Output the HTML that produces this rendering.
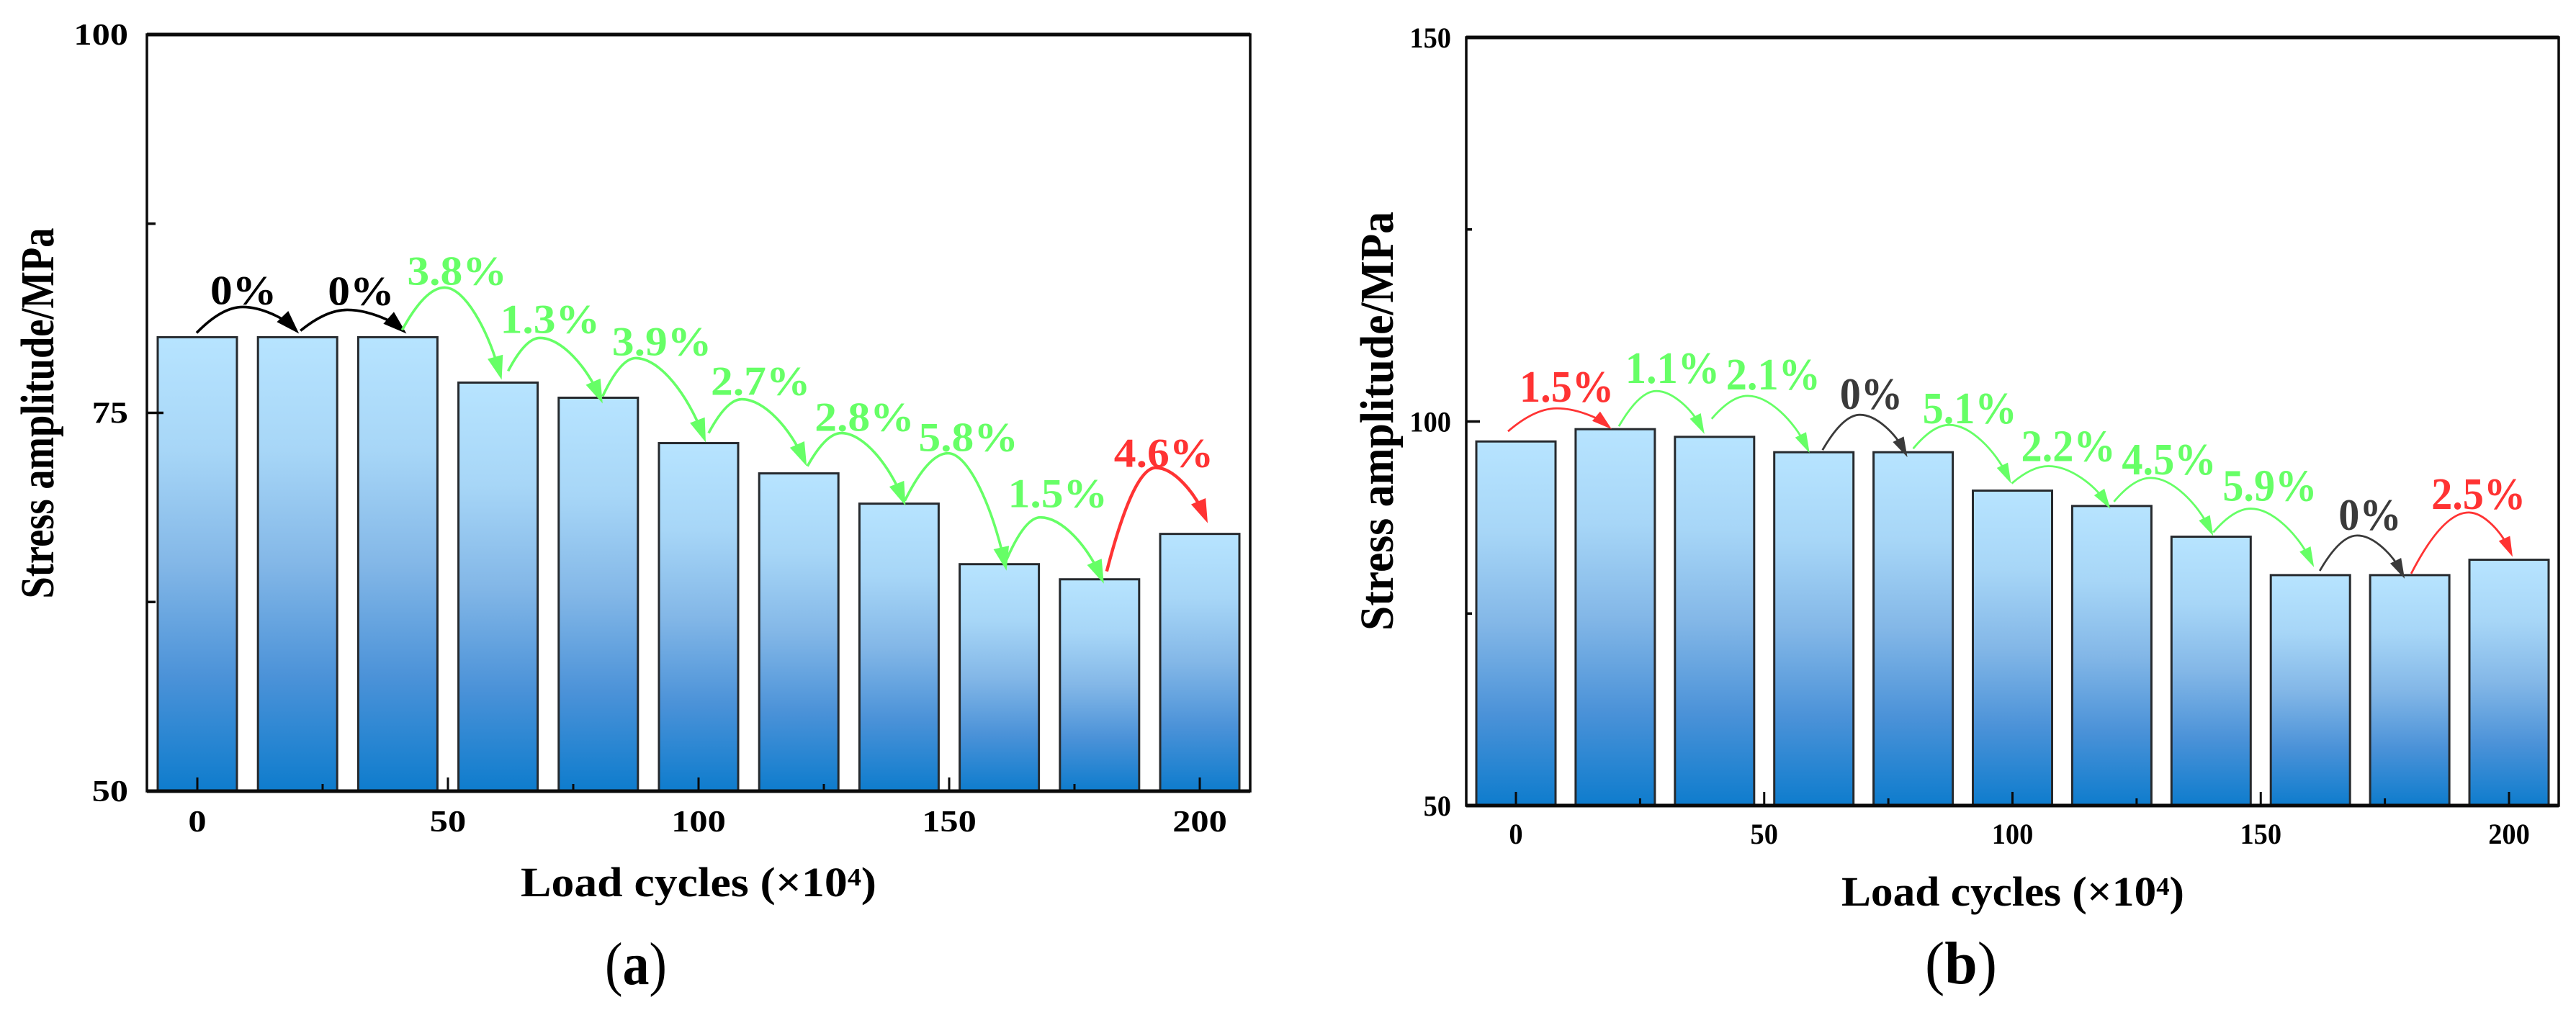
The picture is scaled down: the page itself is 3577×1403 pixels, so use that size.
<!DOCTYPE html>
<html lang="en">
<head>
<meta charset="utf-8">
<title>Stress amplitude versus load cycles</title>
<style>
html,body{margin:0;padding:0;background:#fff;width:3577px;height:1403px;overflow:hidden}
svg{display:block}
text{font-family:"Liberation Serif",serif;font-weight:bold;fill:#000}
</style>
</head>
<body>
<svg id="figure" xmlns="http://www.w3.org/2000/svg" width="3577" height="1403" viewBox="0 0 3577 1403">
  <defs>
    <linearGradient id="barFill" x1="0" y1="0" x2="0" y2="1">
      <stop offset="0" stop-color="#b7e4ff"/>
      <stop offset="0.25" stop-color="#a7d6f7"/>
      <stop offset="0.5" stop-color="#83b7e7"/>
      <stop offset="0.75" stop-color="#4b92d8"/>
      <stop offset="1" stop-color="#0e7ccd"/>
    </linearGradient>
  </defs>
  <rect width="3577" height="1403" fill="#fff"/>
  <g id="panelA"></g>
  <g id="panelB"></g>

  <text transform="translate(74 574) rotate(-90)" text-anchor="middle" font-size="66" textLength="515" lengthAdjust="spacingAndGlyphs">Stress amplitude/MPa</text>
  <text x="723" y="1245" font-size="58" textLength="494" lengthAdjust="spacingAndGlyphs">Load cycles (×10⁴)</text>
  <text x="840" y="1367" font-size="84" textLength="86" lengthAdjust="spacingAndGlyphs"><tspan font-weight="normal">(</tspan>a<tspan font-weight="normal">)</tspan></text>

  <text transform="translate(1934 585) rotate(-90)" text-anchor="middle" font-size="66" textLength="582" lengthAdjust="spacingAndGlyphs">Stress amplitude/MPa</text>
  <text x="2557" y="1258" font-size="58" textLength="476" lengthAdjust="spacingAndGlyphs">Load cycles (×10⁴)</text>
  <text x="2673" y="1366" font-size="84" textLength="100" lengthAdjust="spacingAndGlyphs"><tspan font-weight="normal">(</tspan>b<tspan font-weight="normal">)</tspan></text>
</svg>

<script>
// ---- chart data ----
const loadCycles = [0, 20, 40, 60, 80, 100, 120, 140, 160, 180, 200];
const stressA = [80, 80, 80, 77, 76, 73, 71, 69, 65, 64, 67];
const stressB = [97.4, 99, 98, 96, 96, 91, 89, 85, 80, 80, 82];
const xTickMajor = [0, 50, 100, 150, 200];
const xTickMinor = [25, 75, 125, 175];
const yTickMajorA = [50, 75, 100];
const yTickMinorA = [62.5, 87.5];
const yTickMajorB = [50, 100, 150];
const yTickMinorB = [75, 125];
const changeLabelsA = ['0%', '0%', '3.8%', '1.3%', '3.9%', '2.7%', '2.8%', '5.8%', '1.5%', '4.6%'];
const changeLabelsB = ['1.5%', '1.1%', '2.1%', '0%', '5.1%', '2.2%', '4.5%', '5.9%', '0%', '2.5%'];
const changeKindsA = ['none', 'none', 'drop', 'drop', 'drop', 'drop', 'drop', 'drop', 'drop', 'rise'];
const changeKindsB = ['rise', 'drop', 'drop', 'none', 'drop', 'drop', 'drop', 'drop', 'none', 'rise'];

// ---- annotation layout: pixel offsets from the bar tops, so arrows follow the bars ----
// [startDx, startDy, peakDx, peakDy] from bar i; [endDx, endDy] from bar i+1; [labelDx, labelDy] from the peak
const arcLayoutA = [
  [-1,-6,63,-42,2,-5,-45,-4],[4,-9,69,-38,12,-5,-27,-7],[6,-10,65,-69,5,-4,-52,-4],
  [14,-16,58,-62,6,8,-55,-7],[6,-2,52,-55,10,-1,-33,-4],[14,-14,60,-61,11,-10,-43,-6],
  [12,-10,59,-56,9,3,-37,-3],[8,-4,68,-70,10,9,-41,-3],[10,-6,57,-65,6,6,-45,-14],
  [10,-11,78,-155,11,-15,-58,-1]
];
const arcLayoutB = [
  [-11,-14,57,-46,-5,0,-52,-9],[5,-4,57,-53,-14,-4,-43,-11],[-4,-25,46,-57,-6,1,-30,-9],
  [12,-3,64,-52,-8,7,-28,-8],[0,-5,50,-38,-2,-10,-37,-2],[-1,-10,50,-34,-2,4,-38,-7],
  [3,-6,54,-39,3,-1,-40,-5],[3,-6,55,-39,5,-11,-39,-11],[13,-6,65,-55,-7,5,-26,-8],
  [2,-2,82,-87,5,-4,-52,-5]
];

const NS = 'http://www.w3.org/2000/svg';
function make(parent, tag, attrs, content) {
  const el = document.createElementNS(NS, tag);
  for (const k in attrs) el.setAttribute(k, attrs[k]);
  if (content !== undefined) el.textContent = content;
  parent.appendChild(el);
  return el;
}
function scaledText(parent, x, y, str, size, sx, anchor, fill) {
  return make(parent, 'text', {
    transform: 'translate(' + x + ' ' + y + ') scale(' + sx + ' 1)',
    'text-anchor': anchor, 'font-size': size, style: 'fill:' + fill
  }, str);
}

function drawPanel(root, cfg, values, yMajor, yMinor, labels, kinds, layout) {
  const xScale = v => cfg.x0 + (v - 0) * cfg.xPerUnit;
  const yScale = v => cfg.bottom - (v - cfg.yMin) * (cfg.bottom - cfg.top) / (cfg.yMax - cfg.yMin);
  const palette = { none: cfg.neutral, drop: '#66ff66', rise: '#ff3333' };

  // bars
  loadCycles.forEach((c, i) => {
    const t = yScale(values[i]);
    const bar = make(root, 'rect', {
      x: xScale(c) - cfg.barWidth / 2, y: t, width: cfg.barWidth, height: cfg.bottom - t,
      fill: 'url(#barFill)', stroke: '#262a2e', 'stroke-width': 3
    });
    
    
  });

  // frame
  const frame = make(root, 'rect', {
    x: cfg.left, y: cfg.top, width: cfg.right - cfg.left, height: cfg.bottom - cfg.top,
    fill: 'none', stroke: '#0a0a0a', 'stroke-width': 3.5
  });
  
  
  const topEdge = make(root, 'line', { x1: cfg.left, x2: cfg.right, y1: cfg.top, y2: cfg.top, stroke: '#0a0a0a', 'stroke-width': 5 });
  
  
  const bottomEdge = make(root, 'line', { x1: cfg.left, x2: cfg.right, y1: cfg.bottom, y2: cfg.bottom, stroke: '#0a0a0a', 'stroke-width': 5 });
  
  

  // x ticks
  xTickMajor.forEach(v => {
    const x = xScale(v);
    const tick = make(root, 'line', { x1: x, x2: x, y1: cfg.bottom, y2: cfg.bottom - 19, stroke: '#0a0a0a', 'stroke-width': 3 });
    
    
    const lab = scaledText(root, x, cfg.xLabelBase, String(v), cfg.tickSize, cfg.tickStretch, 'middle', '#000');
    
    
  });
  xTickMinor.forEach(v => {
    const x = xScale(v);
    const tick = make(root, 'line', { x1: x, x2: x, y1: cfg.bottom, y2: cfg.bottom - 10, stroke: '#0a0a0a', 'stroke-width': 3 });
    
    
  });

  // y ticks
  yMajor.forEach(v => {
    const y = yScale(v);
    const tick = make(root, 'line', { x1: cfg.left, x2: cfg.left + cfg.yMajorLen, y1: y, y2: y, stroke: '#0a0a0a', 'stroke-width': 3.5 });
    
    
    const lab = scaledText(root, cfg.yLabelRight, y + cfg.yLabelShift, String(v), cfg.tickSize, cfg.tickStretch, 'end', '#000');
    
    
  });
  yMinor.forEach(v => {
    const y = yScale(v);
    const tick = make(root, 'line', { x1: cfg.left, x2: cfg.left + cfg.yMinorLen, y1: y, y2: y, stroke: '#0a0a0a', 'stroke-width': 3.5 });
    
    
  });

  // change arrows and labels
  layout.forEach((g, i) => {
    const ax = xScale(loadCycles[i]), ay = yScale(values[i]);
    const bx = xScale(loadCycles[i + 1]), by = yScale(values[i + 1]);
    const color = palette[kinds[i]];
    const s = { x: ax + g[0], y: ay + g[1] };
    const p = { x: ax + g[2], y: ay + g[3] };
    const e = { x: bx + g[4], y: by + g[5] };
    const dx1 = p.x - s.x, dy1 = p.y - s.y, dx2 = e.x - p.x, dy2 = e.y - p.y;
    const c4 = { x: e.x - 0.25 * dx2, y: e.y - 0.55 * dy2 };
    const len = Math.hypot(e.x - c4.x, e.y - c4.y) || 1;
    const ux = (e.x - c4.x) / len, uy = (e.y - c4.y) / len;
    const end = { x: e.x - ux * 12, y: e.y - uy * 12 };
    const d = 'M' + s.x + ' ' + s.y +
      ' C' + (s.x + 0.3 * dx1) + ' ' + (s.y + 0.55 * dy1) + ' ' + (p.x - 0.35 * dx1) + ' ' + p.y + ' ' + p.x + ' ' + p.y +
      ' C' + (p.x + 0.35 * dx2) + ' ' + p.y + ' ' + c4.x + ' ' + c4.y + ' ' + end.x + ' ' + end.y;
    const arcWidth = kinds[i] === 'rise' ? cfg.riseArcWidth : cfg.arcWidth;
    const arc = make(root, 'path', { d: d, fill: 'none', stroke: color, 'stroke-width': arcWidth });
    
    

    const L = cfg.headLen, W = cfg.headWidth;
    const bxh = e.x - ux * L, byh = e.y - uy * L;
    const pts = [e.x, e.y, bxh - uy * W / 2, byh + ux * W / 2, bxh + uy * W / 2, byh - ux * W / 2].join(' ');
    const head = make(root, 'polygon', { points: pts, fill: color });
    
    

    const label = scaledText(root, p.x + g[6], p.y + g[7], labels[i], cfg.labelSize, cfg.labelStretch, 'start', color);
    
    
  });
}

drawPanel(document.getElementById('panelA'), {
  left: 204, right: 1736, top: 48, bottom: 1099, x0: 274, xPerUnit: 6.96, yMin: 50, yMax: 100,
  barWidth: 110, neutral: '#000', tickSize: 42, tickStretch: 1.2, xLabelBase: 1155,
  yLabelRight: 178, yLabelShift: 14, yMajorLen: 23, yMinorLen: 12,
  arcWidth: 3.6, riseArcWidth: 4.4, headLen: 33, headWidth: 22, labelSize: 57, labelStretch: 1.08
}, stressA, yTickMajorA, yTickMinorA, changeLabelsA, changeKindsA, arcLayoutA);

drawPanel(document.getElementById('panelB'), {
  left: 2036, right: 3553, top: 52, bottom: 1119, x0: 2105, xPerUnit: 6.895, yMin: 50, yMax: 150,
  barWidth: 110, neutral: '#3a3a3a', tickSize: 40, tickStretch: 0.96, xLabelBase: 1172,
  yLabelRight: 2015, yLabelShift: 14, yMajorLen: 19, yMinorLen: 8,
  arcWidth: 2.8, riseArcWidth: 2.8, headLen: 28, headWidth: 17, labelSize: 62, labelStretch: 0.94
}, stressB, yTickMajorB, yTickMinorB, changeLabelsB, changeKindsB, arcLayoutB);
</script>
</body>
</html>
